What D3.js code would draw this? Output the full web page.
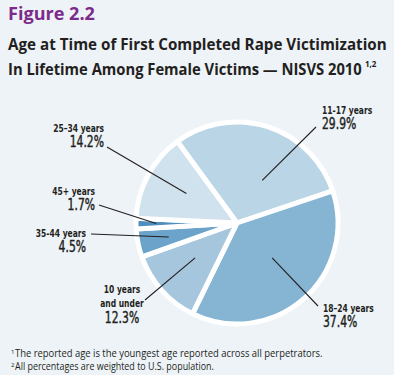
<!DOCTYPE html>
<html>
<head>
<meta charset="utf-8">
<script src="https://cdn.jsdelivr.net/npm/d3@7"></script>
<style>
  body { margin: 0; background: #eef3f8; }
  svg { display: block; }
  .cond { font-family: "DejaVu Sans Condensed", "Liberation Sans Narrow", sans-serif; fill: #231f20; }
</style>
</head>
<body>
<div id="chart"></div>
<script>
// chart values
var age_groups   = ["11-17 years", "18\u201324 years", "10 years and under", "35-44 years", "45+ years", "25\u201334 years"];
var percents     = [29.9, 37.4, 12.3, 4.5, 1.7, 14.2];
var slice_colors = ["#bad5e6", "#86b4d3", "#a5c6dd", "#6ba3ca", "#4f8fbf", "#d0e2ee"];
var label_lines  = [["11-17 years"], ["18\u201324 years"], ["10  years", "and under"], ["35-44 years"], ["45+ years"], ["25\u201334 years"]];
var footnotes    = ["The reported age is the youngest age reported across all perpetrators.",
                    "All percentages are weighted to U.S. population."];

// label placement (text anchor point, leader start, leader end as radius fraction + angle offset)
var label_layout = [
  {x: 322, y: 114, anchor: "start",  lx: 316, ly: 127, r: 0.49, off: 13},
  {x: 323, y: 312, anchor: "start",  lx: 318, ly: 306, r: 0.49, off: -4},
  {x: 122, y: 293, anchor: "middle", lx: 145, ly: 300, r: 0.54, off: 2},
  {x: 86,  y: 237, anchor: "end",    lx: 91,  ly: 234, r: 0.69, off: 0},
  {x: 95,  y: 195, anchor: "end",    lx: 99,  ly: 205, r: 0.80, off: 0},
  {x: 104, y: 132, anchor: "end",    lx: 107, ly: 147, r: 0.58, off: 2}
];

var width  = 394;
var height = 375;
var cx = 237, cy = 223, radius = 101;
var start_angle = -36.2 * Math.PI / 180;

var svg = d3.select("#chart").append("svg")
  .attr("width", width)
  .attr("height", height);

svg.append("rect")
  .attr("width", width)
  .attr("height", height)
  .attr("fill", "#eef3f8");

// squeeze a text horizontally so it spans the wanted width
function fit_text (sel, x, y, w) {
  var natural = sel.node().getComputedTextLength();
  sel.attr("transform", "translate(" + x + "," + y + ") scale(" + (w / natural) + ",1)");
}

// titles
fit_text(svg.append("text")
  .style("font-family", "'Open Sans', sans-serif")
  .style("font-weight", "bold")
  .style("font-size", "18px")
  .attr("fill", "#7d2b8b")
  .text("Figure 2.2"), 8, 20, 87);

fit_text(svg.append("text")
  .style("font-family", "'Open Sans', sans-serif")
  .style("font-weight", "bold")
  .style("font-size", "15.5px")
  .attr("fill", "#231f20")
  .text("Age at Time of First Completed Rape Victimization"), 8, 50, 379);

fit_text(svg.append("text")
  .style("font-family", "'Open Sans', sans-serif")
  .style("font-weight", "bold")
  .style("font-size", "15.5px")
  .attr("fill", "#231f20")
  .text("In Lifetime Among Female Victims \u2014 NISVS 2010"), 8, 75, 354);

svg.append("text")
  .attr("x", 365).attr("y", 67)
  .style("font-family", "'Open Sans', sans-serif")
  .style("font-weight", "bold")
  .style("font-size", "8px")
  .attr("fill", "#231f20")
  .text("1,2");

// pie
var pie = d3.pie()
  .sort(null)
  .value(function (d) { return d; })
  .startAngle(start_angle)
  .endAngle(start_angle + 2 * Math.PI);

var arc = d3.arc()
  .innerRadius(0)
  .outerRadius(radius);

var arcs = pie(percents);

var g = svg.append("g")
  .attr("transform", "translate(" + cx + "," + cy + ")");

g.selectAll("path.slice")
  .data(arcs)
  .enter().append("path")
  .attr("class", "slice")
  .attr("d", arc)
  .attr("fill", function (d, i) { return slice_colors[i]; })
  .attr("stroke", "#ffffff")
  .attr("stroke-width", 5)
  .attr("stroke-linejoin", "round");

// leader lines and labels
var fmt = d3.format(".1f");
arcs.forEach(function (d, i) {
  var lay = label_layout[i];
  var a = (d.startAngle + d.endAngle) / 2 + lay.off * Math.PI / 180;
  var px = cx + Math.sin(a) * radius * lay.r;
  var py = cy - Math.cos(a) * radius * lay.r;
  svg.append("line")
    .attr("x1", lay.lx).attr("y1", lay.ly)
    .attr("x2", px).attr("y2", py)
    .attr("stroke", "#231f20")
    .attr("stroke-width", 1.1);

  var lines = label_lines[i];
  var txt = svg.append("text")
    .attr("class", "cond")
    .attr("text-anchor", lay.anchor)
    .attr("transform", "translate(" + lay.x + "," + lay.y + ") scale(0.8,1)");
  lines.forEach(function (l, k) {
    txt.append("tspan")
      .attr("x", 0)
      .attr("dy", k === 0 ? 0 : 14)
      .style("font-size", "10.5px")
      .style("font-weight", "bold")
      .text(l);
  });
  txt.append("tspan")
    .attr("x", 0)
    .attr("dy", lines.length > 1 ? 16 : 15.5)
    .style("font-size", "15px")
    .attr("stroke", "#231f20")
    .attr("stroke-width", 0.4)
    .text(fmt(percents[i]) + "%");
});

// footnotes
footnotes.forEach(function (f, i) {
  svg.append("text")
    .attr("x", 11)
    .attr("y", 354 + i * 13)
    .style("font-family", "'Open Sans', sans-serif")
    .style("font-size", "6px")
    .attr("fill", "#231f20")
    .text(i + 1);
  fit_text(svg.append("text")
    .style("font-family", "'Open Sans', sans-serif")
    .style("font-size", "10px")
    .attr("fill", "#231f20")
    .text(f), 15, 357 + i * 13, i === 0 ? 308 : 199);
});
</script>
</body>
</html>
